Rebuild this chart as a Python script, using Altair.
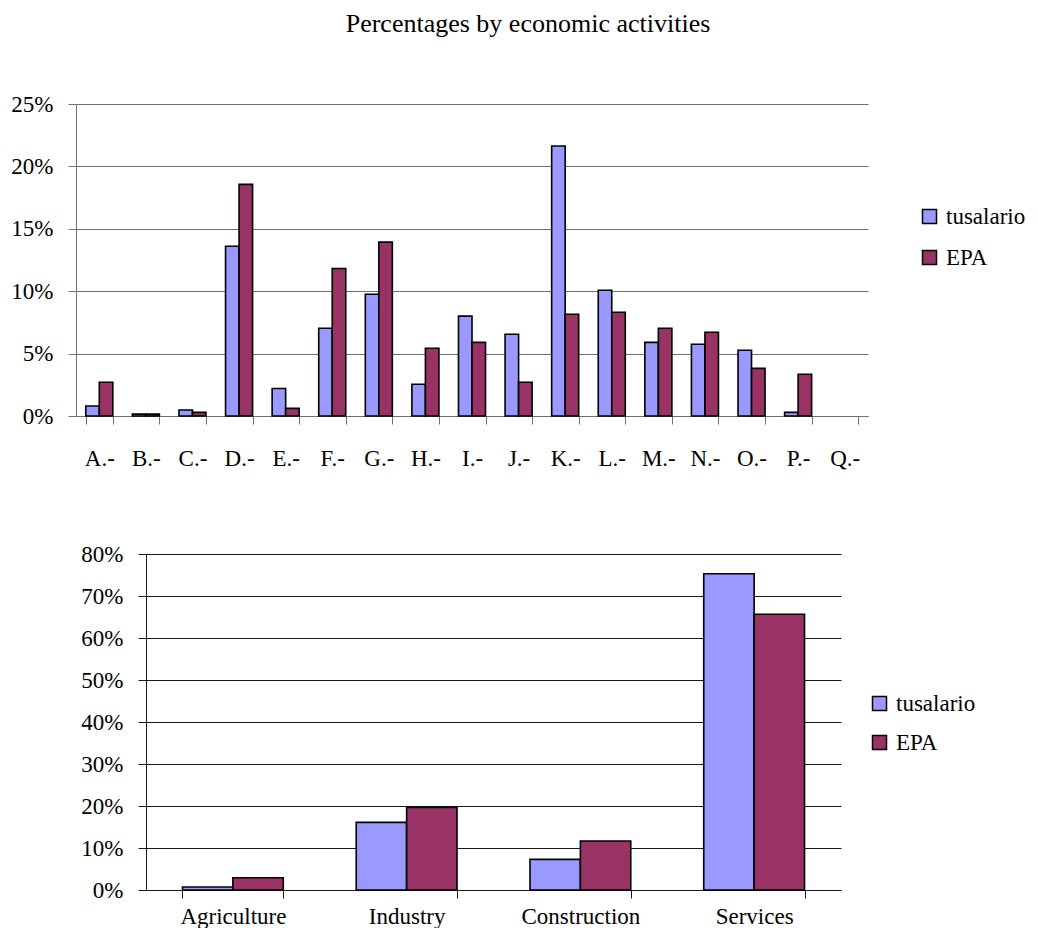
import altair as alt
import pandas as pd

# ---------------- data ----------------
activities = ["A.-", "B.-", "C.-", "D.-", "E.-", "F.-", "G.-", "H.-", "I.-",
              "J.-", "K.-", "L.-", "M.-", "N.-", "O.-", "P.-", "Q.-"]
tus_act = [0.80, 0.15, 0.48, 13.60, 2.20, 7.03, 9.76, 2.54, 8.00,
           6.55, 21.64, 10.08, 5.90, 5.75, 5.27, 0.29, 0.00]
epa_act = [2.70, 0.15, 0.29, 18.56, 0.61, 11.82, 13.93, 5.43, 5.90,
           2.70, 8.15, 8.31, 7.03, 6.71, 3.82, 3.34, 0.00]

sectors = ["Agriculture", "Industry", "Construction", "Services"]
tus_sec = [0.71, 16.10, 7.30, 75.30]
epa_sec = [2.93, 19.67, 11.66, 65.65]

series = ["tusalario", "EPA"]
colors = ["#9999FF", "#993366"]

top_ticks = [0, 5, 10, 15, 20, 25]
bottom_ticks = [0, 10, 20, 30, 40, 50, 60, 70, 80]

FONT = "Liberation Serif"

top_df = pd.DataFrame({
    "activity": activities * 2,
    "series": [series[0]] * len(activities) + [series[1]] * len(activities),
    "value": tus_act + epa_act,
})
bottom_df = pd.DataFrame({
    "sector": sectors * 2,
    "series": [series[0]] * len(sectors) + [series[1]] * len(sectors),
    "value": tus_sec + epa_sec,
})


def make_chart(df, cat_field, cats, ticks, ymax, width, height, grid_color,
               legend_x, legend_y, row_pad, xlab_pad, title=None):
    x_axis = alt.Axis(title=None, labelAngle=0, tickBand="extent", tickSize=8,
                      labelPadding=xlab_pad, domainColor=grid_color,
                      tickColor=grid_color, grid=False, labelFont=FONT,
                      labelFontSize=23, labelColor="black")
    y_axis = alt.Axis(title=None, values=ticks, labelExpr="datum.value + '%'",
                      grid=True, gridColor=grid_color, gridOpacity=1,
                      domainColor=grid_color, tickColor=grid_color,
                      tickSize=8, labelPadding=15, labelFont=FONT,
                      labelFontSize=23, labelColor="black")
    legend = alt.Legend(title=None, orient="none", legendX=legend_x,
                        legendY=legend_y, symbolType="square",
                        symbolSize=196, symbolStrokeColor="black",
                        symbolStrokeWidth=1.5, labelFont=FONT,
                        labelFontSize=23, labelColor="black",
                        rowPadding=row_pad, labelOffset=5, padding=0)
    ch = alt.Chart(df).transform_filter("datum.value > 0").mark_bar(
        stroke="black", strokeWidth=1.6
    ).encode(
        x=alt.X(f"{cat_field}:N", sort=cats,
                scale=alt.Scale(domain=cats, paddingInner=0.42,
                                paddingOuter=0.21),
                axis=x_axis),
        xOffset=alt.XOffset("series:N", sort=series,
                            scale=alt.Scale(domain=series, paddingInner=0,
                                            paddingOuter=0)),
        y=alt.Y("value:Q", scale=alt.Scale(domain=[0, ymax], nice=False),
                axis=y_axis),
        color=alt.Color("series:N", sort=series,
                        scale=alt.Scale(domain=series, range=colors),
                        legend=legend),
    )
    props = dict(width=width, height=height)
    if title is not None:
        props["title"] = title
    return ch.properties(**props)


top = make_chart(top_df, "activity", activities, top_ticks, 25, 792, 312,
                 "#707070", 842, 101, 17, 23,
                 title=alt.TitleParams("Percentages by economic activities",
                                       font=FONT, fontSize=26,
                                       fontWeight="normal", color="black",
                                       anchor="middle", dx=56, offset=56))
bottom = make_chart(bottom_df, "sector", sectors, bottom_ticks, 80, 695, 336,
                    "#1a1a1a", 792, 138, 15, 7)

spacer = alt.Chart(pd.DataFrame({"s": [0]})).mark_text(text=" ").encode(
    x=alt.value(0), y=alt.value(0)
).properties(width=4, height=1)

chart = alt.vconcat(
    top,
    alt.hconcat(spacer, bottom, spacing=0).resolve_scale(
        x="independent", y="independent", xOffset="independent"),
    spacing=73,
).resolve_scale(
    color="independent", x="independent", y="independent",
    xOffset="independent"
).resolve_legend(
    color="independent"
).properties(
    padding={"left": 2, "top": 3, "right": 0, "bottom": 0}
).configure(
    background="white", font=FONT
).configure_view(
    stroke=None
).configure_axis(
    labelFont=FONT
).configure_legend(
    labelFont=FONT
)

chart.save("out.html", embed_options={"renderer": "svg", "actions": False})
